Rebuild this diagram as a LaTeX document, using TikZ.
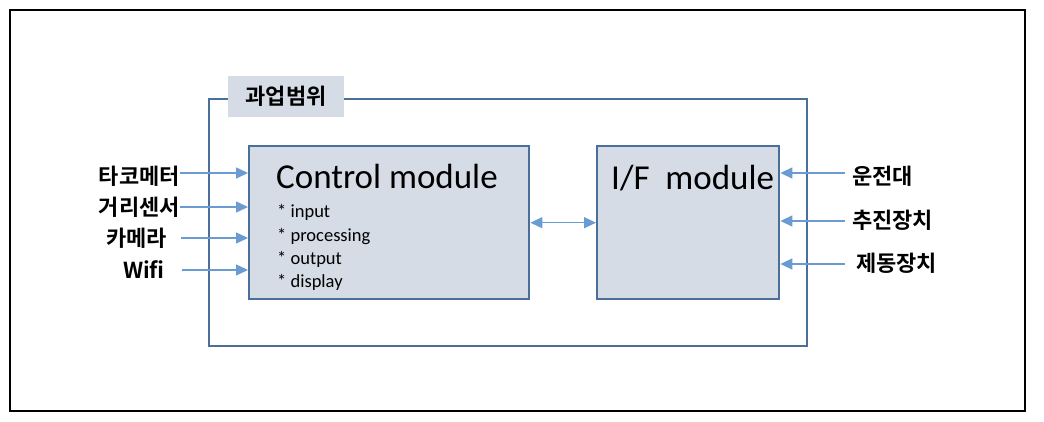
\documentclass[tikz,border=0pt]{standalone}
\usepackage{fontspec}
\setmainfont{Carlito}
\newfontfamily\kr{Noto Sans CJK KR}[BoldFont={Noto Sans CJK KR Bold}]
\usetikzlibrary{arrows.meta}
\definecolor{boxline}{HTML}{4A6F9A}
\definecolor{boxfill}{HTML}{D5DCE6}
\definecolor{arrcol}{HTML}{6A9BD2}
\tikzset{
  modbox/.style={draw=boxline, fill=boxfill, line width=2.4pt, anchor=north west, inner sep=0pt},
  bigtxt/.style={font=\fontsize{35}{40}\selectfont, anchor=base west, inner sep=0pt},
  listtxt/.style={font=\fontsize{18.5}{22}\selectfont, anchor=base west, inner sep=0pt},
  krlab/.style={font=\kr\bfseries\fontsize{22}{26}\selectfont, inner sep=0pt},
  arr/.style={draw=arrcol, line width=1.4pt, -{Triangle[length=12pt,width=11pt]}},
  darr/.style={draw=arrcol, line width=1.4pt, {Triangle[length=12pt,width=11pt]}-{Triangle[length=12pt,width=11pt]}}
}
\begin{document}
\begin{tikzpicture}[x=1pt,y=-1pt]
\useasboundingbox (0,0) rectangle (1044,422);
% outer frame
\draw[black, line width=1.5pt] (10,10) rectangle (1025,411);
% scope box
\draw[boxline, line width=2.4pt] (209,99) rectangle (807,346);
\node[fill=boxfill, minimum width=116pt, minimum height=41pt, inner sep=0pt, font=\kr\bfseries\fontsize{22}{26}\selectfont] (scope) at (286,96.5) {과업범위};
% modules
\node[modbox, minimum width=280pt, minimum height=153pt] (ctrl) at (248,145) {};
\node[modbox, minimum width=182pt, minimum height=153pt] (ifm) at (596,145) {};
\node[bigtxt] (ctitle) at (276,189) {Control module};
\node[listtxt] (l1) at (277,218) {* input};
\node[listtxt] (l2) at (277,241.5) {* processing};
\node[listtxt] (l3) at (277,264.5) {* output};
\node[listtxt] (l4) at (277,287) {* display};
\node[bigtxt] (ititle) at (611,190) {I/F\ \ module};
% left inputs
\coordinate (p1) at (180,173);
\coordinate (p2) at (180,207);
\coordinate (p3) at (181,238);
\coordinate (p4) at (182,270);
\node[krlab, anchor=east] (t1) at (180,176.5) {타코메터};
\node[krlab, anchor=east] (t2) at (180,207) {거리센서};
\node[krlab, anchor=east] (t3) at (167,238) {카메라};
\node[krlab, anchor=east] (t4) at (165,269.5) {Wifi};
\draw[arr] (p1) -- (p1 -| ctrl.west);
\draw[arr] (p2) -- (p2 -| ctrl.west);
\draw[arr] (p3) -- (p3 -| ctrl.west);
\draw[arr] (p4) -- (p4 -| ctrl.west);
% right inputs
\coordinate (q1) at (845,173);
\coordinate (q2) at (845,221);
\coordinate (q3) at (845,264);
\node[krlab, anchor=west] (r1) at (852,176) {운전대};
\node[krlab, anchor=west] (r2) at (852,220) {추진장치};
\node[krlab, anchor=west] (r3) at (856,263) {제동장치};
\draw[arr] (q1) -- (q1 -| ifm.east);
\draw[arr] (q2) -- (q2 -| ifm.east);
\draw[arr] (q3) -- (q3 -| ifm.east);
% link
\draw[darr] (ctrl.east) -- (ifm.west);
\end{tikzpicture}
\end{document}
